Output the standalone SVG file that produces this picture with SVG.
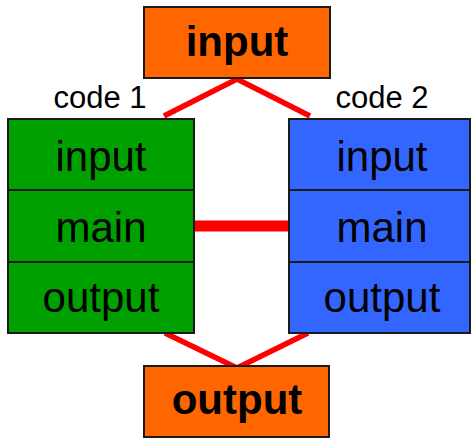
<svg xmlns="http://www.w3.org/2000/svg" width="471" height="438" viewBox="0 0 471 438">
  <style>
    .box { stroke: #1a1a1a; stroke-width: 2; }
    .io { fill: #FF6600; }
    .green { fill: #00A000; }
    .blue { fill: #3366FF; }
    .sep { stroke: #1a1a1a; stroke-width: 2; }
    .link { stroke: #FF0000; stroke-width: 5.5; fill: none; }
    .bar { stroke: #FF0000; stroke-width: 11; }
    text { font-family: "Liberation Sans", Arial, sans-serif; fill: #000; text-anchor: middle; }
    .big { font-size: 42px; }
    .bold { font-size: 42px; font-weight: bold; }
    .label { font-size: 31px; }
  </style>

  <!-- connectors -->
  <g id="connectors">
    <polyline class="link" points="164,116 237,79 310,116"/>
    <polyline class="link" points="165,333 237,368 308,333"/>
    <line class="bar" x1="194" y1="226" x2="288" y2="226"/>
  </g>

  <!-- top input -->
  <g id="input">
    <rect class="box io" x="144" y="7" width="186" height="71"/>
    <text class="bold" x="237" y="56">input</text>
  </g>

  <!-- code 1 -->
  <g id="code1">
    <text class="label" x="100" y="108">code 1</text>
    <rect class="box green" x="8" y="119" width="186" height="214"/>
    <line class="sep" x1="8" y1="190" x2="194" y2="190"/>
    <line class="sep" x1="8" y1="262" x2="194" y2="262"/>
    <text class="big" x="101" y="171">input</text>
    <text class="big" x="101" y="242">main</text>
    <text class="big" x="101" y="312">output</text>
  </g>

  <!-- code 2 -->
  <g id="code2">
    <text class="label" x="382" y="108">code 2</text>
    <rect class="box blue" x="289" y="119" width="181" height="214"/>
    <line class="sep" x1="289" y1="190" x2="470" y2="190"/>
    <line class="sep" x1="289" y1="262" x2="470" y2="262"/>
    <text class="big" x="382" y="171">input</text>
    <text class="big" x="382" y="242">main</text>
    <text class="big" x="382" y="312">output</text>
  </g>

  <!-- bottom output -->
  <g id="output">
    <rect class="box io" x="144" y="366" width="185" height="71"/>
    <text class="bold" x="237" y="414">output</text>
  </g>
</svg>
